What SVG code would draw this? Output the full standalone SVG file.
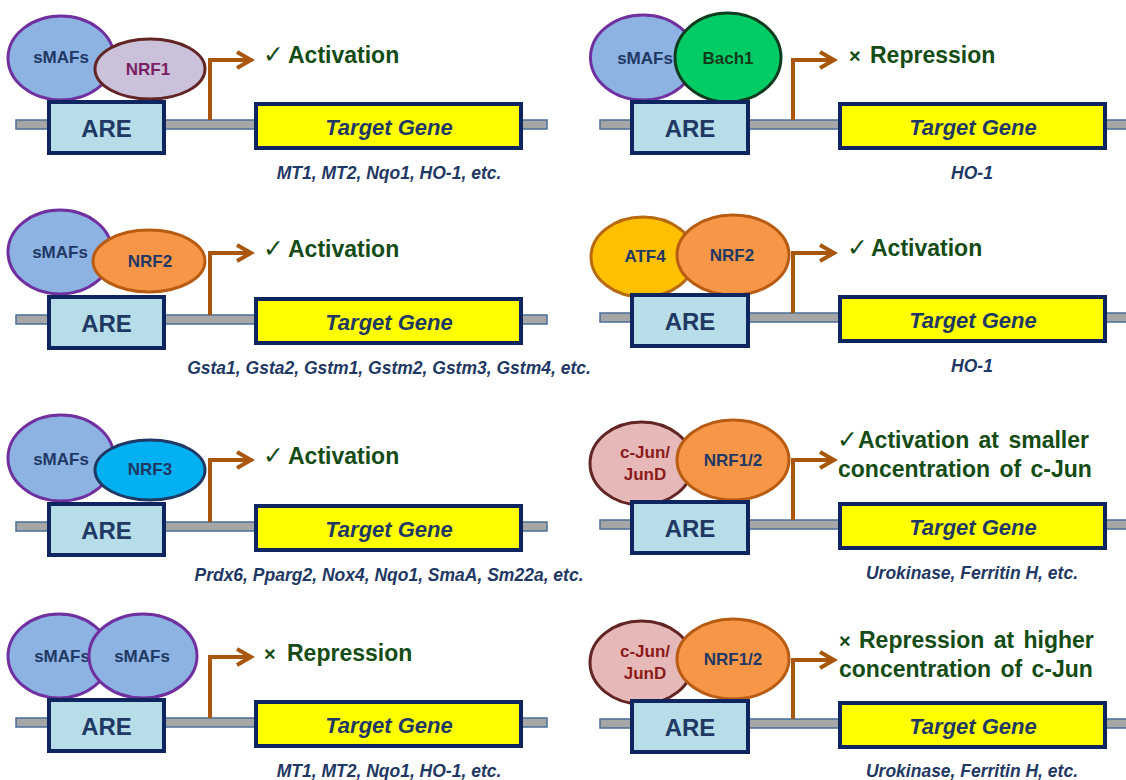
<svg xmlns="http://www.w3.org/2000/svg" width="1126" height="780" viewBox="0 0 1126 780">
<style>
.bg{fill:#ffffff}
.dna{fill:#a6a6a6;stroke:#4a6f9a;stroke-width:1.5}
.are{fill:#b7dee8;stroke:#0f2560;stroke-width:4}
.tg{fill:#ffff00;stroke:#0f2560;stroke-width:4}
.smaf{fill:#8db3e2;stroke:#7030a0;stroke-width:3}
.nrf1{fill:#ccc1da;stroke:#632523;stroke-width:3}
.nrf2{fill:#f79646;stroke:#b85c14;stroke-width:3}
.nrf3{fill:#00b0f0;stroke:#1f3864;stroke-width:3}
.bach{fill:#00cc66;stroke:#0f3b1e;stroke-width:3}
.atf{fill:#ffc000;stroke:#b86a10;stroke-width:3}
.jun{fill:#e6b9b8;stroke:#632523;stroke-width:3}
.t{font-family:"Liberation Sans",Arial,sans-serif;font-weight:bold}
.m{text-anchor:middle}
.navy{fill:#1f3864}
.big{font-size:24px}
.tgt{font-size:22px;font-style:italic}
.prot{font-size:17px}
.lbl{font-size:23px;fill:#154b15}
.sym{font-family:"DejaVu Sans",sans-serif;font-weight:normal;font-size:25px}
.genes{font-size:17.5px;font-style:italic;fill:#1f3864;text-anchor:middle}
.arrow{fill:none;stroke:#a9570f;stroke-width:4;stroke-linejoin:miter}
</style>
<defs>
<marker id="chev" markerUnits="userSpaceOnUse" viewBox="-18 -11 22 22" refX="0" refY="0" markerWidth="22" markerHeight="22" orient="auto">
<path d="M-14,-8 L0,0 L-14,8" fill="none" stroke="#a9570f" stroke-width="4"/>
</marker>
</defs>
<rect class="bg" x="0" y="0" width="1126" height="780"/>

<!-- Left panel 1 -->
<g id="L1" transform="translate(0,0)">
<rect id="L1-dna" class="dna" x="16" y="120" width="531" height="9"/>
<g id="L1-smafs"><ellipse class="smaf" cx="61" cy="58" rx="53" ry="42"/><text class="t m navy prot" x="61" y="63">sMAFs</text></g>
<g id="L1-nrf1"><ellipse class="nrf1" cx="150" cy="69" rx="55" ry="30"/><text class="t m prot" x="148" y="75" fill="#7a1e63">NRF1</text></g>
<g id="L1-are"><rect class="are" x="49" y="102" width="115" height="51"/><text class="t m navy big" x="106.5" y="137">ARE</text></g>
<g id="L1-target"><rect class="tg" x="256" y="104" width="265" height="44"/><text class="t m navy tgt" x="389" y="135">Target Gene</text></g>
<text class="t lbl" x="263" y="63"><tspan class="sym">✓</tspan><tspan x="288">Activation</tspan></text>
<text class="t genes" x="389" y="179">MT1, MT2, Nqo1, HO-1, etc.</text>
</g>

<!-- Left panel 2 -->
<g id="L2" transform="translate(0,195)">
<rect id="L2-dna" class="dna" x="16" y="120" width="531" height="9"/>
<g id="L2-smafs"><ellipse class="smaf" cx="60" cy="57" rx="52" ry="42"/><text class="t m navy prot" x="60" y="63">sMAFs</text></g>
<g id="L2-nrf2"><ellipse class="nrf2" cx="149" cy="66" rx="56" ry="31"/><text class="t m navy prot" x="150" y="72">NRF2</text></g>
<g id="L2-are"><rect class="are" x="49" y="102" width="115" height="51"/><text class="t m navy big" x="106.5" y="137">ARE</text></g>
<g id="L2-target"><rect class="tg" x="256" y="104" width="265" height="44"/><text class="t m navy tgt" x="389" y="135">Target Gene</text></g>
<text class="t lbl" x="263" y="62"><tspan class="sym">✓</tspan><tspan x="288">Activation</tspan></text>
<text class="t genes" x="389" y="179">Gsta1, Gsta2, Gstm1, Gstm2, Gstm3, Gstm4, etc.</text>
</g>

<!-- Left panel 3 -->
<g id="L3" transform="translate(0,402)">
<rect id="L3-dna" class="dna" x="16" y="120" width="531" height="9"/>
<g id="L3-smafs"><ellipse class="smaf" cx="61" cy="56" rx="53" ry="43"/><text class="t m navy prot" x="61" y="63">sMAFs</text></g>
<g id="L3-nrf3"><ellipse class="nrf3" cx="150" cy="68" rx="55" ry="30"/><text class="t m navy prot" x="150" y="73">NRF3</text></g>
<g id="L3-are"><rect class="are" x="49" y="102" width="115" height="51"/><text class="t m navy big" x="106.5" y="137">ARE</text></g>
<g id="L3-target"><rect class="tg" x="256" y="104" width="265" height="44"/><text class="t m navy tgt" x="389" y="135">Target Gene</text></g>
<text class="t lbl" x="263" y="62"><tspan class="sym">✓</tspan><tspan x="288">Activation</tspan></text>
<text class="t genes" x="389" y="179">Prdx6, Pparg2, Nox4, Nqo1, SmaA, Sm22a, etc.</text>
</g>

<!-- Left panel 4 -->
<g id="L4" transform="translate(0,598)">
<rect id="L4-dna" class="dna" x="16" y="120" width="531" height="9"/>
<g id="L4-smafs1"><ellipse class="smaf" cx="59" cy="58" rx="51" ry="42"/><text class="t m navy prot" x="62" y="64">sMAFs</text></g>
<g id="L4-smafs2"><ellipse class="smaf" cx="143" cy="58" rx="54" ry="42"/><text class="t m navy prot" x="142" y="64">sMAFs</text></g>
<g id="L4-are"><rect class="are" x="49" y="102" width="115" height="51"/><text class="t m navy big" x="106.5" y="137">ARE</text></g>
<g id="L4-target"><rect class="tg" x="256" y="104" width="265" height="44"/><text class="t m navy tgt" x="389" y="135">Target Gene</text></g>
<text class="t lbl" x="264" y="63"><tspan font-size="20">×</tspan><tspan x="287">Repression</tspan></text>
<text class="t genes" x="389" y="179">MT1, MT2, Nqo1, HO-1, etc.</text>
</g>

<!-- Right panel 1 -->
<g id="R1" transform="translate(583,0)">
<rect id="R1-dna" class="dna" x="17" y="120" width="560" height="9"/>
<g id="R1-smafs"><ellipse class="smaf" cx="60" cy="57.5" rx="52.5" ry="42.5"/><text class="t m navy prot" x="62" y="64">sMAFs</text></g>
<g id="R1-bach1"><ellipse class="bach" cx="145" cy="57.5" rx="53" ry="44.5"/><text class="t m prot" x="145" y="64" fill="#103b1a">Bach1</text></g>
<g id="R1-are"><rect class="are" x="49" y="102" width="116" height="51"/><text class="t m navy big" x="107" y="137">ARE</text></g>
<g id="R1-target"><rect class="tg" x="257" y="104" width="265" height="44"/><text class="t m navy tgt" x="390" y="135">Target Gene</text></g>
<text class="t lbl" x="266" y="63"><tspan font-size="20">×</tspan><tspan x="287">Repression</tspan></text>
<text class="t genes" x="389" y="179">HO-1</text>
</g>

<!-- Right panel 2 -->
<g id="R2" transform="translate(583,193)">
<rect id="R2-dna" class="dna" x="17" y="120" width="560" height="9"/>
<g id="R2-atf4"><ellipse class="atf" cx="60" cy="64" rx="52" ry="40"/><text class="t m navy prot" x="62" y="69">ATF4</text></g>
<g id="R2-nrf2"><ellipse class="nrf2" cx="150" cy="62" rx="56" ry="40"/><text class="t m navy prot" x="149" y="68">NRF2</text></g>
<g id="R2-are"><rect class="are" x="49" y="102" width="116" height="51"/><text class="t m navy big" x="107" y="137">ARE</text></g>
<g id="R2-target"><rect class="tg" x="257" y="104" width="265" height="44"/><text class="t m navy tgt" x="390" y="135">Target Gene</text></g>
<text class="t lbl" x="264" y="63"><tspan class="sym">✓</tspan><tspan x="288">Activation</tspan></text>
<text class="t genes" x="389" y="179">HO-1</text>
</g>

<!-- Right panel 3 -->
<g id="R3" transform="translate(583,400)">
<rect id="R3-dna" class="dna" x="17" y="120" width="560" height="9"/>
<g id="R3-jun"><ellipse class="jun" cx="58.5" cy="63.5" rx="51.5" ry="41.5"/><text class="t m prot" fill="#8b1a1a" x="62"><tspan x="62" y="58">c-Jun/</tspan><tspan x="62" y="80">JunD</tspan></text></g>
<g id="R3-nrf12"><ellipse class="nrf2" cx="150" cy="60" rx="56" ry="40"/><text class="t m navy prot" x="150" y="66">NRF1/2</text></g>
<g id="R3-are"><rect class="are" x="49" y="102" width="116" height="51"/><text class="t m navy big" x="107" y="137">ARE</text></g>
<g id="R3-target"><rect class="tg" x="257" y="104" width="265" height="44"/><text class="t m navy tgt" x="390" y="135">Target Gene</text></g>
<text class="t lbl" x="254" y="48"><tspan class="sym">✓</tspan><tspan x="275" word-spacing="3">Activation at smaller</tspan></text>
<text class="t lbl" x="255" y="77" word-spacing="3">concentration of c-Jun</text>
<text class="t genes" x="389" y="179">Urokinase, Ferritin H, etc.</text>
</g>

<!-- Right panel 4 -->
<g id="R4" transform="translate(583,599)">
<rect id="R4-dna" class="dna" x="17" y="120" width="560" height="9"/>
<g id="R4-jun"><ellipse class="jun" cx="58.5" cy="63.5" rx="51.5" ry="41.5"/><text class="t m prot" fill="#8b1a1a" x="62"><tspan x="62" y="58">c-Jun/</tspan><tspan x="62" y="80">JunD</tspan></text></g>
<g id="R4-nrf12"><ellipse class="nrf2" cx="150" cy="60" rx="56" ry="40"/><text class="t m navy prot" x="150" y="66">NRF1/2</text></g>
<g id="R4-are"><rect class="are" x="49" y="102" width="116" height="51"/><text class="t m navy big" x="107" y="137">ARE</text></g>
<g id="R4-target"><rect class="tg" x="257" y="104" width="265" height="44"/><text class="t m navy tgt" x="390" y="135">Target Gene</text></g>
<text class="t lbl" x="256" y="49"><tspan font-size="20">×</tspan><tspan x="276" word-spacing="3">Repression at higher</tspan></text>
<text class="t lbl" x="256" y="78" word-spacing="3">concentration of c-Jun</text>
<text class="t genes" x="389" y="178">Urokinase, Ferritin H, etc.</text>
</g>

<!-- Connectors -->
<g id="connectors">
<path class="arrow" d="M210,120 V60 H251" marker-end="url(#chev)"/>
<path class="arrow" d="M210,315 V253 H251" marker-end="url(#chev)"/>
<path class="arrow" d="M210,522 V460 H251" marker-end="url(#chev)"/>
<path class="arrow" d="M210,718 V657 H251" marker-end="url(#chev)"/>
<path class="arrow" d="M793,120 V60 H834" marker-end="url(#chev)"/>
<path class="arrow" d="M793,313 V253 H834" marker-end="url(#chev)"/>
<path class="arrow" d="M793,520 V460 H834" marker-end="url(#chev)"/>
<path class="arrow" d="M793,719 V660 H834" marker-end="url(#chev)"/>
</g>
</svg>
